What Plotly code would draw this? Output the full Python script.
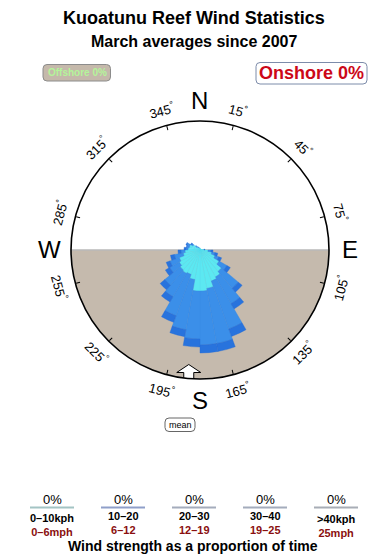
import math
import plotly.graph_objects as go

# ---------------- data ----------------
directions = [5, 15, 25, 35, 45, 55, 65, 75, 85, 95, 105, 115, 125, 135, 145, 155, 165, 175,
              185, 195, 205, 215, 225, 235, 245, 255, 265, 275, 285, 295, 305, 315, 325, 335, 345, 355]
speed_0_10 = [0.2, 0.1, 0.1, 0.1, 0.1, 0.1, 0.1, 0.2, 0.4, 0.8, 1.2, 1.6, 2.2, 2.8, 3.1, 3.3, 3.9, 4.1,
              4.1, 3.0, 2.6, 2.7, 2.6, 2.4, 2.2, 1.7, 1.5, 1.2, 1.1, 1.1, 0.8, 0.4, 0.3, 0.2, 0.2, 0.2]
speed_10_20 = [0, 0, 0, 0, 0, 0, 0, 0, 0, 0.3, 0.3, 0.4, 0.9, 2.2, 3.1, 5.1, 5.6, 5.4,
               4.8, 5.1, 4.4, 2.7, 2.0, 1.1, 1.0, 0.9, 0.4, 0.2, 0.2, 0.3, 0.2, 0.2, 0.1, 0.1, 0, 0]
speed_20_30 = [0, 0, 0, 0, 0, 0, 0, 0, 0.1, 0.2, 0.3, 0.3, 0.4, 0.5, 0.6, 0.8, 0.8, 0.8,
               0.8, 0.7, 0.7, 0.6, 0.6, 0.5, 0.4, 0.4, 0.3, 0.2, 0.1, 0.1, 0.1, 0, 0, 0, 0, 0]
mean_direction = 185
radial_max = 12.9
land_center = 180
land_width = 180

tick_angles = [15, 45, 75, 105, 135, 165, 195, 225, 255, 285, 315, 345]
compass_labels = ["N", "E", "S", "W"]
compass_angles = [0, 90, 180, 270]

legend_pct = ["0%", "0%", "0%", "0%", "0%"]
legend_kph = ["0–10kph", "10–20", "20–30", "30–40", ">40kph"]
legend_mph = ["0–6mph", "6–12", "12–19", "19–25", "25mph"]

# ---------------- layout helpers ----------------
W, H = 390, 560
CX, CY, R = 200, 250, 129


def px(x):
    return x / W


def py(y):
    return 1 - y / H


def rounded_rect(x0, y0, x1, y1, rad):
    pts = [
        f"M{px(x0 + rad)},{py(y0)}",
        f"L{px(x1 - rad)},{py(y0)}",
        f"Q{px(x1)},{py(y0)} {px(x1)},{py(y0 + rad)}",
        f"L{px(x1)},{py(y1 - rad)}",
        f"Q{px(x1)},{py(y1)} {px(x1 - rad)},{py(y1)}",
        f"L{px(x0 + rad)},{py(y1)}",
        f"Q{px(x0)},{py(y1)} {px(x0)},{py(y1 - rad)}",
        f"L{px(x0)},{py(y0 + rad)}",
        f"Q{px(x0)},{py(y0)} {px(x0 + rad)},{py(y0)}",
        "Z",
    ]
    return " ".join(pts)


FONT = "Liberation Sans, Arial, Helvetica, sans-serif"

fig = go.Figure()

# land (tan half disc, south of the shoreline) as a wide polar bar beneath the petals
fig.add_trace(go.Barpolar(
    r=[radial_max], theta=[land_center], width=[land_width], base=0,
    marker=dict(color="#c5baad", line=dict(color="#b9b9b9", width=1.5)),
    hoverinfo="skip", showlegend=False))

# petals (stacked manually with base)
colors = ["#5ce8f1", "#3b8fe9", "#2873dd"]
lines = ["#55dbee", "#3788e4", "#266dd6"]
base = [0.0] * len(directions)
for vals, col, lc, nm in zip([speed_0_10, speed_10_20, speed_20_30], colors, lines,
                             ["0-10", "10-20", "20-30"]):
    fig.add_trace(go.Barpolar(
        r=vals, theta=directions, width=10, base=list(base), name=nm,
        marker=dict(color=col, line=dict(color=lc, width=0.4)),
        hoverinfo="skip", showlegend=False))
    base = [b + v for b, v in zip(base, vals)]

# mean arrow (vertical arrow anchored on the rim at the mean direction)
ax0 = radial_max * math.sin(math.radians(mean_direction))
ay0 = radial_max * math.cos(math.radians(mean_direction))
arrow_local = [(0, 1.4), (1.2, 0.6), (0.5, 0.6), (0.5, -0.1), (-0.5, -0.1), (-0.5, 0.6), (-1.2, 0.6), (0, 1.4)]
ar, at = [], []
for dx, dy in arrow_local:
    x = ax0 + dx
    y = ay0 + dy
    ar.append(math.hypot(x, y))
    at.append(math.degrees(math.atan2(x, y)) % 360)
fig.add_trace(go.Scatterpolar(
    r=ar, theta=at, mode="lines", fill="toself", fillcolor="white",
    line=dict(color="black", width=1), hoverinfo="skip", showlegend=False))

fig.update_layout(
    width=W, height=H, margin=dict(l=0, r=0, t=0, b=0),
    paper_bgcolor="white", plot_bgcolor="white",
    font=dict(family=FONT, color="black"),
    polar=dict(
        domain=dict(x=[px(CX - R), px(CX + R)], y=[py(CY + R), py(CY - R)]),
        bgcolor="white", barmode="overlay",
        radialaxis=dict(range=[0, radial_max], visible=False, showgrid=False),
        angularaxis=dict(rotation=90, direction="clockwise", showgrid=False,
                         tickvals=tick_angles, ticks="inside", ticklen=4,
                         tickcolor="black", tickwidth=1, showticklabels=False,
                         linecolor="black", linewidth=1.6, layer="above traces"),
    ),
)

ann = []
ann.append(dict(x=px(194), y=py(18), text="<b>Kuoatunu Reef Wind Statistics</b>",
                font=dict(size=18, family=FONT, color="black")))
ann.append(dict(x=px(194), y=py(42), text="<b>March averages since 2007</b>",
                font=dict(size=16, family=FONT, color="black")))

shapes = []
shapes.append(dict(type="path", xref="paper", yref="paper",
                   path=rounded_rect(43, 64.5, 110.5, 81, 4),
                   fillcolor="#c5b9ab", line=dict(color="#8c8c8c", width=1)))
ann.append(dict(x=px(77), y=py(73), text="<b>Offshore 0%</b>",
                font=dict(size=10, family=FONT, color="#b4f59a")))
shapes.append(dict(type="path", xref="paper", yref="paper",
                   path=rounded_rect(256, 62.5, 367, 84, 4),
                   fillcolor="white", line=dict(color="#7d8caa", width=1)))
ann.append(dict(x=px(311.5), y=py(73.5), text="<b>Onshore 0%</b>",
                font=dict(size=18, family=FONT, color="#cc0818")))

for b in tick_angles:
    x = CX + 145 * math.sin(math.radians(b))
    y = CY - 145 * math.cos(math.radians(b))
    ang = ((b + 90) % 180) - 90
    ann.append(dict(x=px(x), y=py(y), text=f"{b}<sup>°</sup>", textangle=ang,
                    font=dict(size=13, family=FONT, color="black")))

for lab, b in zip(compass_labels, compass_angles):
    x = CX + 150 * math.sin(math.radians(b))
    y = CY - 150 * math.cos(math.radians(b))
    ann.append(dict(x=px(x), y=py(y), text=lab, font=dict(size=24, family=FONT, color="black")))

shapes.append(dict(type="path", xref="paper", yref="paper",
                   path=rounded_rect(165, 418, 195, 431.5, 4),
                   fillcolor="white", line=dict(color="#666666", width=1)))
ann.append(dict(x=px(180), y=py(424.5), text="mean", font=dict(size=9, family=FONT, color="black")))

col_x = [52, 123, 194, 265, 336]
line_cols = ["#a3c4c4", "#8f9fc9", "#a4acbc", "#a4acbc", "#a8adb6"]
lab_y = [525, 523, 523, 523, 525.5]
for i, xc in enumerate(col_x):
    ann.append(dict(x=px(xc), y=py(499), text=legend_pct[i],
                    font=dict(size=13, family=FONT, color="black")))
    shapes.append(dict(type="line", xref="paper", yref="paper",
                       x0=px(xc - 22), x1=px(xc + 22), y0=py(507.5), y1=py(507.5),
                       line=dict(color=line_cols[i], width=2)))
    ann.append(dict(x=px(xc), y=py(lab_y[i]),
                    text=f"<b>{legend_kph[i]}</b><br><b><span style='color:#8a0f0f'>{legend_mph[i]}</span></b>",
                    font=dict(size=11, family=FONT, color="black")))
ann.append(dict(x=px(193), y=py(546), text="<b>Wind strength as a proportion of time</b>",
                font=dict(size=14, family=FONT, color="black")))

for a in ann:
    a.update(xref="paper", yref="paper", showarrow=False, xanchor="center", yanchor="middle")

fig.update_layout(annotations=ann, shapes=shapes)
fig.write_html("out.html")
